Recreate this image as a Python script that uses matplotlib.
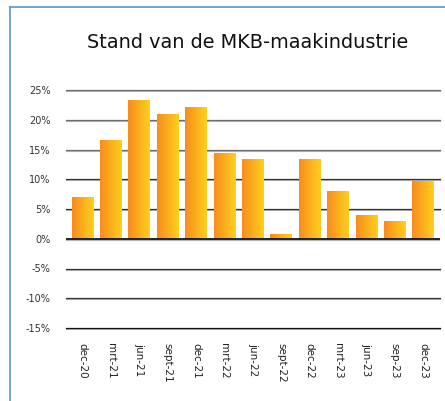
import numpy as np
import matplotlib
matplotlib.use("Agg")
import matplotlib.pyplot as plt
from matplotlib.lines import Line2D
from matplotlib.colors import LinearSegmentedColormap

periods = ["dec-20", "mrt-21", "jun-21", "sept-21", "dec-21", "mrt-22", "jun-22",
           "sept-22", "dec-22", "mrt-23", "jun-23", "sep-23", "dec-23"]
values = [7.0, 16.6, 23.2, 21.0, 22.1, 14.3, 13.3, 0.7, 13.3, 8.0, 4.0, 3.0, 9.6]
yticks = [-15, -10, -5, 0, 5, 10, 15, 20, 25]

plt.rcParams['font.family'] = ['DejaVu Sans']

fig = plt.figure(figsize=(4.45, 4.01), dpi=100)
ax = fig.add_axes([66/445, 1-328/401, (440-66)/445, (328-90)/401])

px = 40 / 238.0  # one pixel in data units

# gridlines (dark line with a lighter shadow under it)
for t in yticks:
    if t == 0:
        continue
    c = '#6e6e6e' if t >= 15 else '#333333'
    if t == -15:
        c = '#111111'
    ax.axhline(t - px, color='#b4b4b4', lw=0.8, zorder=1, clip_on=False)
    ax.axhline(t, color=c, lw=0.9, zorder=1.1, clip_on=False)

cmap = LinearSegmentedColormap.from_list('og', ['#f68d1f', '#ffd01c'])
grad = np.linspace(0, 1, 64).reshape(1, -1)
w = 0.77
for i, v in enumerate(values):
    ax.imshow(grad, cmap=cmap, extent=[i - w/2, i + w/2, 0, v], aspect='auto',
              zorder=2, interpolation='bilinear')

ax.axhline(-px, color='#b4b4b4', lw=0.8, zorder=3)
ax.axhline(0, color='#111111', lw=1.3, zorder=3.1)

ax.set_xlim(-0.58, 12.59)
ax.set_ylim(-15, 25)
ax.set_yticks(yticks)
ax.set_yticklabels([f"{t}%" for t in yticks], fontsize=7, color='#333333')
ax.set_xticks(range(len(periods)))
ax.set_xticklabels(periods, rotation=270, fontsize=7.5, color='#222222', va='top', ha='center')
ax.tick_params(length=0, pad=11)
ax.tick_params(axis='x', pad=11)
for s in ax.spines.values():
    s.set_visible(False)

fig.text(0.556, 1-42/401, "Stand van de MKB-maakindustrie", ha='center', va='center',
         fontsize=13.9, color='#111111')

# outer frame
fig.add_artist(Line2D([10/445, 10/445], [0, 1-7/401], color='#5b93c5', lw=1.2))
fig.add_artist(Line2D([10/445, 1], [1-7/401, 1-7/401], color='#5b93c5', lw=1.2))

fig.savefig("out.png", dpi=100)
